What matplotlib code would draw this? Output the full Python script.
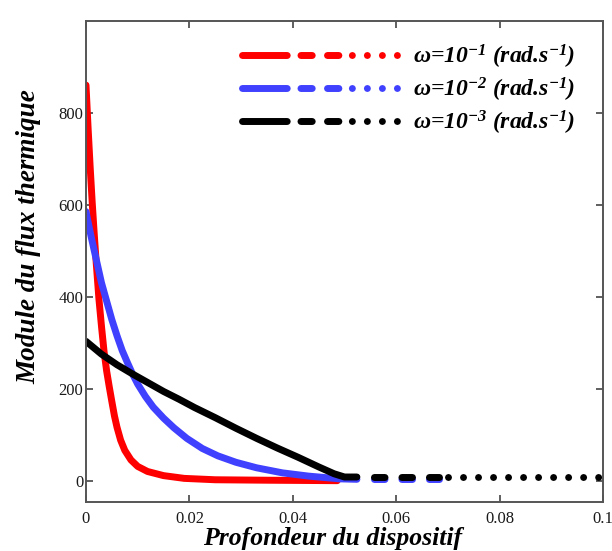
import numpy as np
import matplotlib
matplotlib.use("Agg")
import matplotlib.pyplot as plt
from matplotlib.lines import Line2D

plt.rcParams['lines.scale_dashes'] = False
plt.rcParams['mathtext.fontset'] = 'custom'
plt.rcParams['mathtext.rm'] = 'Liberation Serif:bold:italic'
plt.rcParams['mathtext.it'] = 'Liberation Serif:bold:italic'
plt.rcParams['mathtext.bf'] = 'Liberation Serif:bold:italic'

# ---------------- data ----------------
red_x = [0.0000, 0.0004, 0.0008, 0.0012, 0.0016, 0.0020, 0.0025, 0.0030, 0.0035,
         0.0040, 0.0045, 0.0050, 0.0055, 0.0060, 0.0067, 0.0075, 0.0087, 0.0100,
         0.0119, 0.0150, 0.0190, 0.0250, 0.0350, 0.0486]
red_y = [860, 768, 683, 605, 535, 470, 395, 335, 280,
         238, 204, 172, 141, 116, 88, 66, 45, 31,
         20, 11, 5, 2, 1, 0]

blue_x = [0.0000, 0.0010, 0.0020, 0.0030, 0.0040, 0.0050, 0.0060, 0.0070, 0.0080,
          0.0090, 0.0100, 0.0115, 0.0130, 0.0150, 0.0170, 0.0195, 0.0225, 0.0255,
          0.0290, 0.0330, 0.0380, 0.0430, 0.0490, 0.0524, 0.0683]
blue_y = [585, 530, 480, 430, 390, 350, 315, 283, 257,
          232, 210, 183, 160, 136, 115, 92, 70, 54,
          40, 28, 17, 10, 4, 3, 3]

black_x = [0.0000, 0.0030, 0.0060, 0.0090, 0.0120, 0.0150, 0.0180, 0.0210, 0.0250,
           0.0290, 0.0330, 0.0370, 0.0410, 0.0450, 0.0480, 0.0500, 0.0524, 0.0683,
           0.0701, 0.1000]
black_y = [303, 275, 252, 232, 213, 194, 177, 159, 137,
           114, 92, 71, 51, 30, 15, 8, 8, 8,
           8, 8]

labels = [r'$\omega$=10$^{-1}$ (rad.s$^{-1}$)',
          r'$\omega$=10$^{-2}$ (rad.s$^{-1}$)',
          r'$\omega$=10$^{-3}$ (rad.s$^{-1}$)']
colors = ['#ff0000', '#4040ff', '#000000']

xticks = [0, 0.02, 0.04, 0.06, 0.08, 0.1]
xtick_labels = ['0', '0.02', '0.04', '0.06', '0.08', '0.1']
yticks = [0, 200, 400, 600, 800]
ytick_labels = ['0', '200', '400', '600', '800']

# ---------------- style ----------------
SOLID_END = 0.0524
DASH_END = 0.0683
DOT_START = 0.0701
LW = 5
DASH_ON, DASH_OFF = 7.6, 12.2
DOT_OFF = 10.8

fig = plt.figure(figsize=(6.12, 5.51), dpi=100)
ax = fig.add_axes([86 / 612, 1 - 502.3 / 551, (603 - 86) / 612, (502.3 - 20.7) / 551])

for xs, ys, c in zip([red_x, blue_x, black_x], [red_y, blue_y, black_y], colors):
    xs = np.asarray(xs); ys = np.asarray(ys)
    m = xs <= SOLID_END + 1e-9
    ax.plot(xs[m], ys[m], color=c, lw=LW, solid_capstyle='round', solid_joinstyle='round')
    m = (xs >= SOLID_END - 1e-9) & (xs <= DASH_END + 1e-9)
    if m.sum() > 1:
        ax.plot(xs[m], ys[m], color=c, lw=LW, dash_capstyle='round',
                linestyle=(DASH_ON, (DASH_ON, DASH_OFF)))
    m = xs >= DOT_START - 1e-9
    if m.sum() > 1:
        ax.plot(xs[m], ys[m], color=c, lw=LW, dash_capstyle='round',
                linestyle=(0, (0.01, DOT_OFF)))

ax.set_xlim(0, 0.1)
ax.set_ylim(-47, 1000)
ax.set_xticks(xticks)
ax.set_xticklabels(xtick_labels)
ax.set_yticks(yticks)
ax.set_yticklabels(ytick_labels)

for lab in ax.get_xticklabels() + ax.get_yticklabels():
    lab.set_fontfamily('Liberation Serif')
    lab.set_fontsize(12)
    lab.set_color('#1a1a1a')
ax.tick_params(direction='in', length=5, width=1.2, color='#444444',
               top=True, right=True)
ax.tick_params(axis='x', pad=6)
ax.tick_params(axis='y', pad=2)
for s in ax.spines.values():
    s.set_color('#555555')
    s.set_linewidth(1.4)

ax.set_xlabel('Profondeur du dispositif', family='Liberation Serif', weight='bold',
              style='italic', size=18.5)
ax.set_ylabel('Module du flux thermique', family='Liberation Serif', weight='bold',
              style='italic', size=19.5)
ax.xaxis.set_label_coords((333 - 86) / 517, -(550 - 502.3) / 481.6)
ax.xaxis.label.set_va('bottom')
ax.yaxis.set_label_coords((41 - 86) / 517, (502.3 - 236.7) / 481.6)

legpat = (0, (32.2, 9.9, 8.1, 11.0, 8.2, 9.7, 0.01, 10.8, 0.01, 10.8, 0.01, 10.8, 0.01, 60))
handles = [Line2D([], [], color=c, lw=LW, dash_capstyle='round', linestyle=legpat)
           for c in colors]
fs = 17
leg = ax.legend(handles, labels, loc='upper left', frameon=False, numpoints=1,
                bbox_to_anchor=(241.8 / 612, 1 - 43 / 551), bbox_transform=fig.transFigure,
                borderpad=0, borderaxespad=0, handlelength=155.5 / (fs * 100 / 72),
                handletextpad=0.68, labelspacing=0.2,
                prop=dict(family='Liberation Serif', weight='bold', style='italic', size=fs))

fig.savefig('out.png', dpi=100)
